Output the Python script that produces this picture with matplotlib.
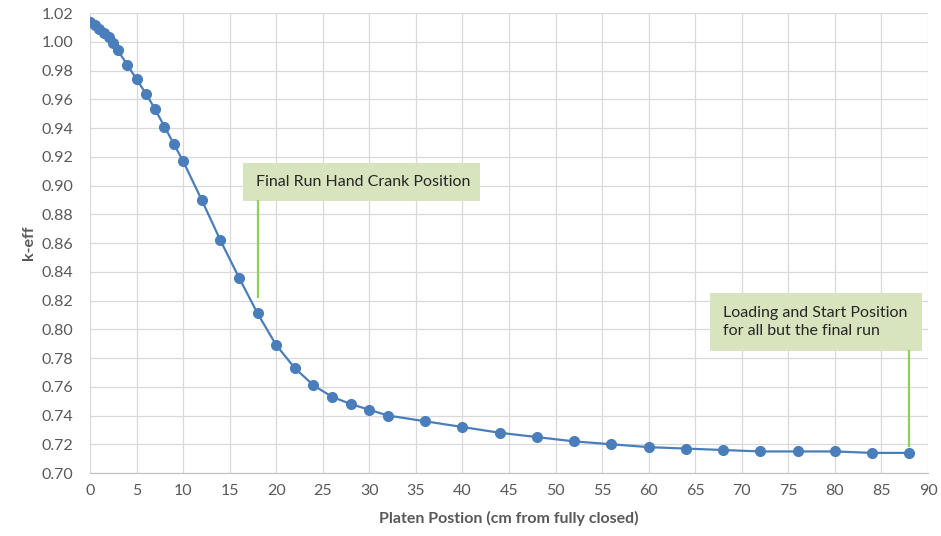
"""k-eff versus platen position"""
import matplotlib.pyplot as plt
from matplotlib.patches import Rectangle

# Platen position (cm from fully closed) and the computed k-eff
posicao = [0, 0.5, 1, 1.5, 2, 2.5, 3, 4, 5, 6, 7, 8, 9, 10, 12, 14, 16, 18, 20,
           22, 24, 26, 28, 30, 32, 36, 40, 44, 48, 52, 56, 60, 64, 68, 72, 76,
           80, 84, 88]
keff = [1.014, 1.012, 1.009, 1.006, 1.003, 0.999, 0.994, 0.984, 0.974, 0.964,
        0.953, 0.941, 0.929, 0.917, 0.890, 0.862, 0.836, 0.811, 0.789, 0.773,
        0.761, 0.753, 0.748, 0.744, 0.740, 0.736, 0.732, 0.728, 0.725, 0.722,
        0.720, 0.718, 0.717, 0.716, 0.715, 0.715, 0.715, 0.714, 0.714]

xticks = list(range(0, 95, 5))
yticks = [0.70 + 0.02 * i for i in range(17)]

# Callouts: text, box corners (x0, y0, x1, y1), leader line (x, y_top, y_bottom)
nota_manivela = 'Final Run Hand Crank Position'
caixa_manivela = (16.4, 0.8892, 41.9, 0.9157)
linha_manivela = (18.0, 0.8892, 0.8224)

nota_carga = 'Loading and Start Position\nfor all but the final run'
caixa_carga = (66.6, 0.7849, 89.4, 0.8252)
linha_carga = (88.0, 0.7849, 0.7185)

plt.rcParams['font.family'] = ['Lato', 'DejaVu Sans']

fig = plt.figure(figsize=(9.41, 5.36), dpi=100)
ax = fig.add_axes([0.0956, 0.1175, 0.8906, 0.8582])

cinza = '#595959'
azul = '#4a7ebb'

ax.plot(posicao, keff, color=azul, linewidth=1.6, marker='o', markersize=7,
        markerfacecolor=azul, markeredgecolor=azul, zorder=3)

ax.set_xlim(0, 90)
ax.set_ylim(0.70, 1.02)
ax.set_xticks(xticks)
ax.set_yticks(yticks)
ax.set_yticklabels([f'{v:.2f}' for v in yticks])
ax.tick_params(axis='both', length=0, labelsize=11.5, labelcolor=cinza)
ax.tick_params(axis='x', pad=8)
ax.tick_params(axis='y', pad=12)
ax.grid(True, color='#d9d9d9', linewidth=0.9)
ax.set_axisbelow(True)
for lado in ['top', 'right', 'left']:
    ax.spines[lado].set_visible(False)
ax.spines['bottom'].set_color('#bfbfbf')

ax.set_xlabel('Platen Postion (cm from fully closed)', fontsize=11.5,
              fontweight='bold', color=cinza, labelpad=9)
ax.set_ylabel('k-eff', fontsize=11.5, fontweight='bold', color=cinza, labelpad=4)

# Caixas verdes com linha de chamada
for texto, caixa, linha in [(nota_manivela, caixa_manivela, linha_manivela),
                            (nota_carga, caixa_carga, linha_carga)]:
    x0, y0, x1, y1 = caixa
    ax.add_patch(Rectangle((x0, y0), x1 - x0, y1 - y0, facecolor='#d7e4bd',
                           edgecolor='none', zorder=4, clip_on=False))
    ax.text(x0 + 1.4, (y0 + y1) / 2, texto, fontsize=11.5, color='#262626',
            va='center', ha='left', linespacing=1.35, zorder=5)
    lx, ly0, ly1 = linha
    ax.plot([lx, lx], [ly0, ly1], color='#92d050', linewidth=1.6, zorder=4)

fig.savefig('out.png', dpi=100)
